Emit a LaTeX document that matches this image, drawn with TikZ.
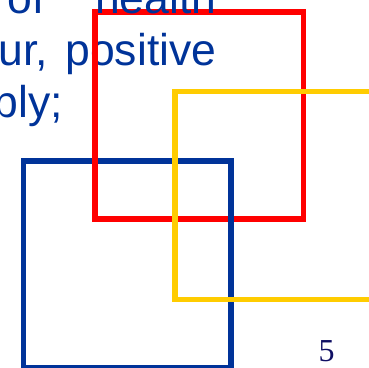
\documentclass[tikz,border=0pt]{standalone}
\usepackage{fontspec}
\setmainfont{Liberation Sans}
\newfontfamily\numfont{Liberation Serif}
\definecolor{slideblue}{RGB}{0,51,153}
\definecolor{slidered}{RGB}{255,0,0}
\definecolor{slideyellow}{RGB}{255,204,0}
\definecolor{slidenavy}{RGB}{15,15,100}
\tikzset{
  bodytext/.style={anchor=base west, inner sep=0pt, outer sep=0pt, text=slideblue,
    font=\fontsize{44.5}{53}\selectfont},
  frameline/.style={line width=5.6pt, line join=miter},
  pagenum/.style={anchor=base west, inner sep=0pt, outer sep=0pt, text=slidenavy,
    font=\numfont\fontsize{32}{36}\selectfont}
}
\begin{document}
\begin{tikzpicture}[x=1pt,y=-1pt]
\useasboundingbox (0,0) rectangle (369,367);
\begin{scope}
\clip (0,0) rectangle (369,367);
% text lines
\node[bodytext] (of) at (8,13) {of};
\node[bodytext] (ur) at (-1.5,65.5) {ur,};
\node[bodytext] (positive) at (65.4,65.5) {positive};
\node[bodytext] (bly) at (-6.5,117.5) {bly;};
% squares
\draw[frameline, slideblue] (23.3,161.2) rectangle (231.2,368);
\draw[frameline, slidered] (95,12) rectangle (303.4,219);
\draw[frameline, slideblue, line cap=butt] (231.2,161.2) -- (231.2,368);
\draw[frameline, slideyellow] (175,91.5) rectangle (400,299.3);
\node[bodytext] (health) at (95,13) {health};
% page number
\node[pagenum] (num) at (318.5,361) {5};
\end{scope}
\end{tikzpicture}
\end{document}
